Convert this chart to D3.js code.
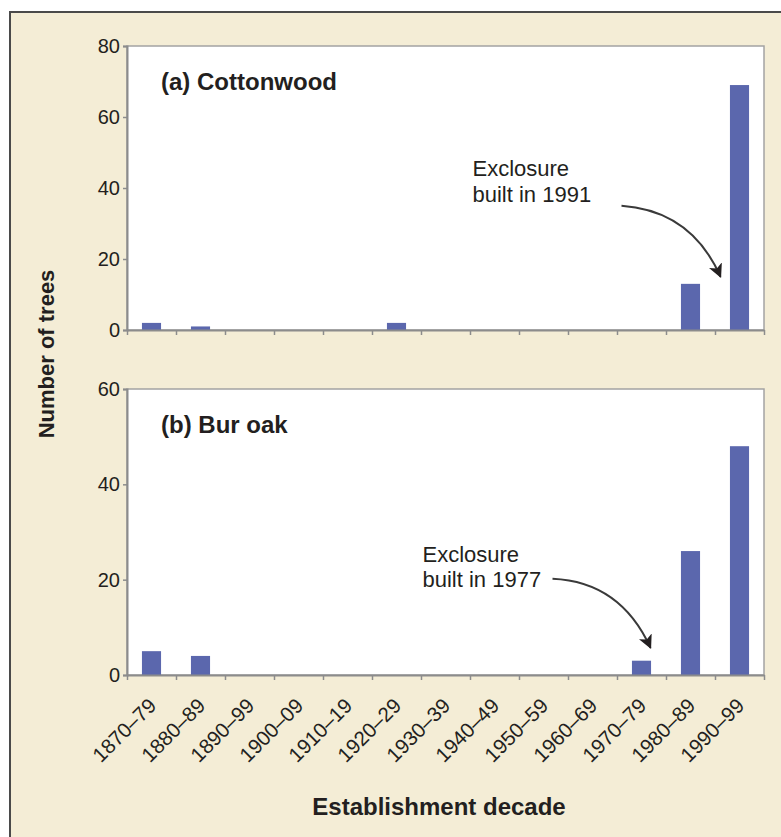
<!DOCTYPE html>
<html>
<head>
<meta charset="utf-8">
<script src="https://cdn.jsdelivr.net/npm/d3@7"></script>
<style>
  html, body { margin: 0; padding: 0; background: #fff; }
  svg text { font-family: "Liberation Sans", Arial, Helvetica, sans-serif; fill: #231f20; }
</style>
</head>
<body>
<div id="chart"></div>
<script>
// categories and values
const decades = ["1870–79", "1880–89", "1890–99", "1900–09", "1910–19", "1920–29",
  "1930–39", "1940–49", "1950–59", "1960–69", "1970–79", "1980–89", "1990–99"];
const cottonwood = [2, 1, 0, 0, 0, 2, 0, 0, 0, 0, 0, 13, 69];
const burOak = [5, 4, 0, 0, 0, 0, 0, 0, 0, 0, 3, 26, 48];
const cottonwoodTicks = [0, 20, 40, 60, 80];
const burOakTicks = [0, 20, 40, 60];

const width = 781, height = 837;
const left = 127, right = 764;
const barColor = "#5b67ad";

const svg = d3.select("#chart").append("svg")
  .attr("width", width)
  .attr("height", height);

// arrow head
svg.append("defs").append("marker")
  .attr("id", "head")
  .attr("viewBox", "0 0 10 10")
  .attr("refX", 9).attr("refY", 5)
  .attr("markerWidth", 7).attr("markerHeight", 7)
  .attr("markerUnits", "strokeWidth")
  .attr("orient", "auto")
  .append("path")
  .attr("d", "M0,0 L10,5 L0,10 L2.5,5 Z")
  .attr("fill", "#231f20");

// cream card with border on top and left
svg.append("rect")
  .attr("x", 10).attr("y", 12)
  .attr("width", width - 10).attr("height", height - 12)
  .attr("fill", "#f4edd6");
svg.append("path")
  .attr("d", `M10,${height} V12 H${width}`)
  .attr("fill", "none")
  .attr("stroke", "#4a4a4a")
  .attr("stroke-width", 2);

const x = d3.scaleBand()
  .domain(decades)
  .range([left, right])
  .paddingInner(0.61)
  .paddingOuter(0.305);

// band boundaries for tick marks
const xEdge = d3.scaleLinear().domain([0, decades.length]).range([left, right]);

const panels = [
  {
    title: "(a) Cottonwood", values: cottonwood, ticks: cottonwoodTicks,
    top: 46, bottom: 330, max: 80, labels: false,
    note: ["Exclosure", "built in 1991"],
    from: { cat: "1970–79", dx: -20, v: 35 },
    to: { cat: "1990–99", dx: -19, v: 15 },
    ctrl: [70, 5], textDx: -149, textDy: [-30, -4]
  },
  {
    title: "(b) Bur oak", values: burOak, ticks: burOakTicks,
    top: 389, bottom: 675, max: 60, labels: true,
    note: ["Exclosure", "built in 1977"],
    from: { cat: "1970–79", dx: -89, v: 20.2 },
    to: { cat: "1970–79", dx: 9, v: 5.7 },
    ctrl: [68, 3], textDx: -130, textDy: [-17, 8]
  }
];

panels.forEach(p => {
  const y = d3.scaleLinear().domain([0, p.max]).range([p.bottom, p.top]);
  const g = svg.append("g");

  // plot area
  g.append("rect")
    .attr("x", left).attr("y", p.top)
    .attr("width", right - left).attr("height", p.bottom - p.top)
    .attr("fill", "#fff")
    .attr("stroke", "#a3a3a3")
    .attr("stroke-width", 1.5);

  // bars
  g.selectAll("rect.bar")
    .data(p.values.map((v, i) => ({ k: decades[i], v })).filter(d => d.v > 0))
    .join("rect")
    .attr("class", "bar")
    .attr("x", d => x(d.k))
    .attr("width", x.bandwidth())
    .attr("y", d => y(d.v))
    .attr("height", d => y(0) - y(d.v))
    .attr("fill", barColor);

  // y axis
  const yAxis = g.append("g")
    .attr("transform", `translate(${left},0)`)
    .call(d3.axisLeft(y).tickValues(p.ticks).tickSize(4).tickPadding(3));
  yAxis.select(".domain").attr("stroke", "#8c8c8c").attr("stroke-width", 2);
  yAxis.selectAll(".tick line").attr("stroke", "#8c8c8c").attr("stroke-width", 1.5);
  yAxis.selectAll(".tick text")
    .attr("font-size", 20)
    .attr("fill", "#231f20");

  // x axis: ticks on band edges
  const xAxis = g.append("g")
    .attr("transform", `translate(0,${p.bottom})`)
    .call(d3.axisBottom(xEdge).tickValues(d3.range(decades.length + 1))
      .tickSize(5).tickSizeOuter(0).tickFormat(""));
  xAxis.select(".domain").attr("stroke", "#8c8c8c").attr("stroke-width", 2);
  xAxis.selectAll(".tick line").attr("stroke", "#8c8c8c").attr("stroke-width", 1.5);

  if (p.labels) {
    g.selectAll("text.xlab")
      .data(decades)
      .join("text")
      .attr("class", "xlab")
      .attr("transform", d => `translate(${x(d) + x.bandwidth() / 2 + 6},${p.bottom + 32}) rotate(-45)`)
      .attr("text-anchor", "end")
      .attr("font-size", 20.5)
      .text(d => d);
  }

  // panel title
  g.append("text")
    .attr("x", left + 34)
    .attr("y", p.top + 44)
    .attr("font-size", 24)
    .attr("font-weight", "bold")
    .text(p.title);

  // annotation
  const sx = x(p.from.cat) + x.bandwidth() / 2 + p.from.dx, sy = y(p.from.v);
  const tx = x(p.to.cat) + x.bandwidth() / 2 + p.to.dx, ty = y(p.to.v);
  g.append("path")
    .attr("d", `M${sx},${sy} Q${sx + p.ctrl[0]},${sy + p.ctrl[1]} ${tx},${ty}`)
    .attr("fill", "none")
    .attr("stroke", "#3a3a3a")
    .attr("stroke-width", 2)
    .attr("marker-end", "url(#head)");
  p.note.forEach((line, i) => {
    g.append("text")
      .attr("x", sx + p.textDx)
      .attr("y", sy + p.textDy[i])
      .attr("font-size", 22)
      .text(line);
  });
});

// axis titles
svg.append("text")
  .attr("transform", `translate(54,354) rotate(-90)`)
  .attr("text-anchor", "middle")
  .attr("font-size", 22)
  .attr("font-weight", "bold")
  .text("Number of trees");

svg.append("text")
  .attr("x", 439)
  .attr("y", 815)
  .attr("text-anchor", "middle")
  .attr("font-size", 24)
  .attr("font-weight", "bold")
  .text("Establishment decade");
</script>
</body>
</html>
